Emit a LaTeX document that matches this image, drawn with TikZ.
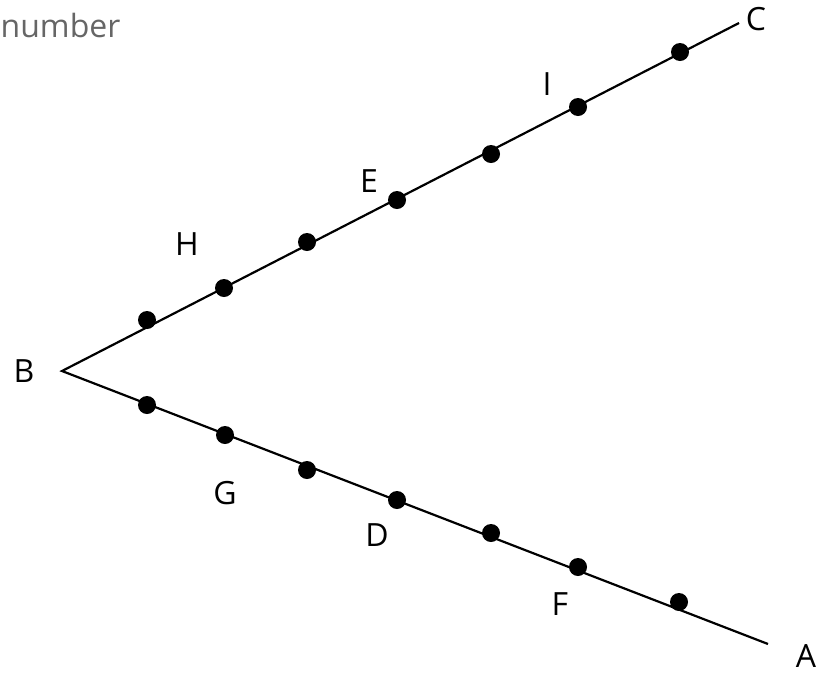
\documentclass[tikz,border=0pt]{standalone}
\usepackage{fontspec}
\setmainfont{Open Sans}
\definecolor{numgray}{RGB}{102,102,102}
\begin{document}
\begin{tikzpicture}[x=1pt,y=-1pt,
  dot/.style={circle,fill=black,inner sep=0pt,minimum size=18pt},
  lbl/.style={inner sep=0pt,anchor=base,font=\fontsize{32}{38}\selectfont},
  ray/.style={line width=2.2pt}]
\useasboundingbox (0,0) rectangle (827,673);
\coordinate (B) at (62,371);
\coordinate (C) at (739,23);
\coordinate (A) at (768,644);
\draw[ray] (C) -- (B) -- (A);
% dots on upper ray
\foreach \n/\x/\y in {u1/147/320,u2/224/288,u3/307/242,u4/397/200,u5/491/154,u6/578/107,u7/680/52}
  \node[dot] (\n) at (\x,\y) {};
% dots on lower ray
\foreach \n/\x/\y in {d1/147/405,d2/225/435,d3/307/470,d4/397/500,d5/491/533,d6/578/567,d7/679/602}
  \node[dot] (\n) at (\x,\y) {};
% labels
\node[lbl] (lB) at (24,382) {B};
\node[lbl] (lC) at (756,30) {C};
\node[lbl] (lA) at (806,667) {A};
\node[lbl] (lH) at (187,255) {H};
\node[lbl] (lE) at (369,192) {E};
\node[lbl] (lI) at (547,95) {I};
\node[lbl] (lG) at (225,504) {G};
\node[lbl] (lD) at (377,546) {D};
\node[lbl] (lF) at (560,615) {F};
\node[lbl,anchor=base west,text=numgray] (num) at (0.5,37) {number};
\end{tikzpicture}
\end{document}
